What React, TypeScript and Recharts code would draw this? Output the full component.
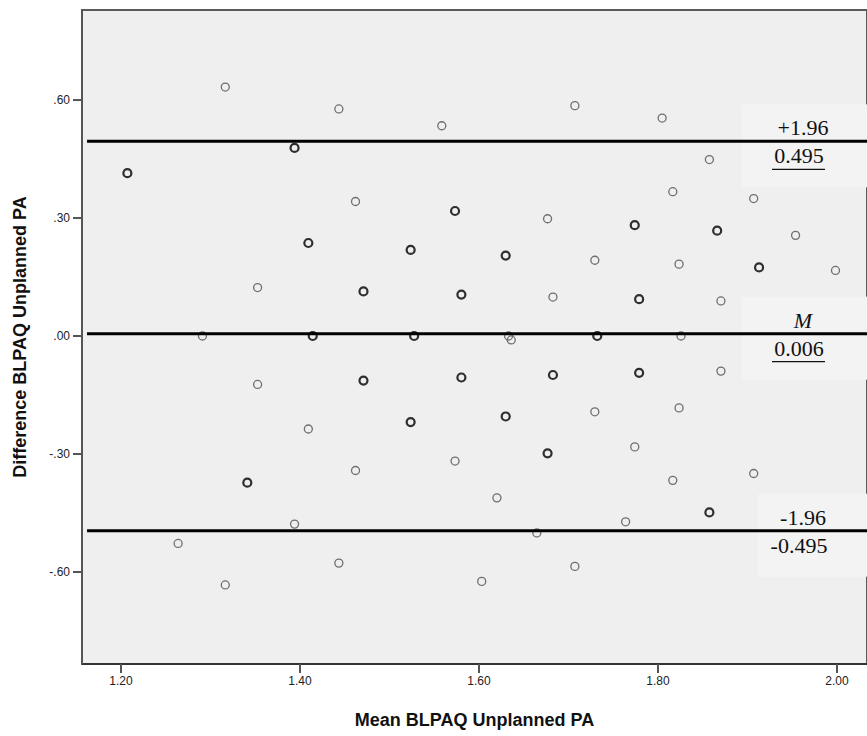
import React from 'react';
import {
  ScatterChart,
  Scatter,
  XAxis,
  YAxis,
  ReferenceLine,
  ReferenceArea,
} from 'recharts';

// light circles: [mean, difference]
const lightPoints: [number, number][] = [
  [1.3165, 0.633], [1.4434, 0.5774], [1.5584, 0.5347], [1.7071, 0.5858], [1.8046, 0.5542],
  [1.8574, 0.4487], [1.8165, 0.367], [1.9069, 0.3496], [1.9537, 0.256], [1.9983, 0.1668],
  [1.462, 0.342], [1.6766, 0.2982], [1.7294, 0.1927], [1.8235, 0.1828],
  [1.3526, 0.1232], [1.6826, 0.0991], [1.8703, 0.0892], [1.9575, 0.0851],
  [1.291, 0], [1.633, 0], [1.636, -0.01], [1.8257, 0],
  [1.3526, -0.1232], [1.8703, -0.0892],
  [1.4093, -0.2365], [1.7294, -0.1927], [1.8235, -0.1828],
  [1.462, -0.342], [1.5732, -0.3179], [1.774, -0.2819], [1.8165, -0.367], [1.9069, -0.3496],
  [1.62, -0.4115], [1.3939, -0.4783], [1.6646, -0.5007], [1.7638, -0.4725],
  [1.2638, -0.5275], [1.3165, -0.633], [1.4434, -0.5774], [1.603, -0.6239], [1.7071, -0.5858],
];

// darker circles (overlapping cases)
const darkPoints: [number, number][] = [
  [1.2071, 0.4142], [1.3939, 0.4783], [1.5732, 0.3179], [1.774, 0.2819], [1.8661, 0.2679],
  [1.4093, 0.2365], [1.5236, 0.2188], [1.6298, 0.2046], [1.9129, 0.1743],
  [1.4709, 0.1133], [1.5803, 0.1055], [1.7789, 0.0936],
  [1.4142, 0], [1.5275, 0], [1.7321, 0],
  [1.4709, -0.1133], [1.5803, -0.1055], [1.6826, -0.0991], [1.7789, -0.0936],
  [1.5236, -0.2188], [1.6298, -0.2046], [1.6766, -0.2982],
  [1.3411, -0.3728], [1.8574, -0.4487],
];

const xTicks = [1.2, 1.4, 1.6, 1.8, 2.0];
const yTicks = [-0.6, -0.3, 0, 0.3, 0.6];

const upperLimit = 0.495;
const meanDiff = 0.006;
const lowerLimit = -0.495;

const xDomain: [number, number] = [1.1564, 2.0335];
const yDomain: [number, number] = [-0.834, 0.829];

const toObj = (arr: [number, number][]) => arr.map(([x, y]) => ({ x, y }));

const fmtY = (v: number) => {
  const s = Math.abs(v).toFixed(2).replace(/^0/, '');
  return v < 0 ? '-' + s : s;
};

const sans = '"Liberation Sans", Arial, sans-serif';
const serif = '"Liberation Serif", "Times New Roman", serif';

const Circle = (color: string, width: number) => (props: any) => (
  <circle cx={props.cx} cy={props.cy} r={4} fill="none" stroke={color} strokeWidth={width} />
);

const LimitLabel = (top: string, bottom: string, underline: boolean, italicTop = false, boxLeft = 125) =>
  (props: any) => {
    const vb = props.viewBox;
    const right = vb.x + vb.width;
    const y = vb.y;
    const cx = right - 64;
    return (
      <g>
        <rect x={right - boxLeft} y={y - 37} width={boxLeft} height={83} fill="#f3f3f3" />
        <line x1={vb.x} x2={right} y1={y} y2={y} stroke="#000" strokeWidth={3} />
        <text x={cx} y={y - 6} textAnchor="middle" fontFamily={serif} fontSize={22}
          fontStyle={italicTop ? 'italic' : 'normal'} fill="#111">{top}</text>
        <text x={cx - 4} y={y + 22} textAnchor="middle" fontFamily={serif} fontSize={22} fill="#111">{bottom}</text>
        {underline && <line x1={cx - 31} x2={cx + 22} y1={y + 28} y2={y + 28} stroke="#111" strokeWidth={1.2} />}
      </g>
    );
  };

export default function App() {
  const refProps: any = { zIndex: 2000 };
  return (
    <div style={{ position: 'absolute', left: 0, top: 0, background: '#fff' }}>
      <ScatterChart width={867} height={736} margin={{ top: 10, right: 0, bottom: 0, left: 0 }}>
        <ReferenceArea x1={xDomain[0]} x2={xDomain[1]} y1={yDomain[0]} y2={yDomain[1]}
          fill="#efefef" fillOpacity={1} stroke="#5a5a5a" strokeWidth={2} />
        <XAxis type="number" dataKey="x" domain={xDomain} ticks={xTicks} allowDataOverflow
          tickFormatter={(v: number) => v.toFixed(2)} height={72} tickSize={9} tickMargin={3}
          axisLine={{ stroke: '#333', strokeWidth: 2 }} tickLine={{ stroke: '#555', strokeWidth: 2 }}
          tick={{ fill: '#222', fontSize: 12, fontFamily: sans }}
          label={{ value: 'Mean BLPAQ Unplanned PA', position: 'insideBottom', offset: 10,
            style: { fontSize: 18, fontWeight: 'bold', fill: '#111', fontFamily: sans } }} />
        <YAxis type="number" dataKey="y" domain={yDomain} ticks={yTicks} allowDataOverflow
          tickFormatter={fmtY} width={82} tickSize={9} tickMargin={3}
          axisLine={{ stroke: '#555', strokeWidth: 2 }} tickLine={{ stroke: '#555', strokeWidth: 2 }}
          tick={{ fill: '#222', fontSize: 12, fontFamily: sans }}
          label={{ value: 'Difference BLPAQ Unplanned PA', angle: -90, position: 'insideLeft', offset: 20,
            style: { textAnchor: 'middle', fontSize: 18, fontWeight: 'bold', fill: '#111', fontFamily: sans } }} />
        <Scatter data={toObj(lightPoints)} isAnimationActive={false} shape={Circle('#6e6e6e', 1.3)} />
        <Scatter data={toObj(darkPoints)} isAnimationActive={false} shape={Circle('#2e2e2e', 2.2)} />
        <ReferenceLine {...refProps} segment={[{ x: 1.162, y: upperLimit }, { x: xDomain[1], y: upperLimit }]}
          stroke="none" label={LimitLabel('+1.96', '0.495', true)} />
        <ReferenceLine {...refProps} segment={[{ x: 1.162, y: meanDiff }, { x: xDomain[1], y: meanDiff }]}
          stroke="none" label={LimitLabel('M', '0.006', true, true)} />
        <ReferenceLine {...refProps} segment={[{ x: 1.162, y: lowerLimit }, { x: xDomain[1], y: lowerLimit }]}
          stroke="none" label={LimitLabel('-1.96', '-0.495', false, false, 109)} />
      </ScatterChart>
    </div>
  );
}
